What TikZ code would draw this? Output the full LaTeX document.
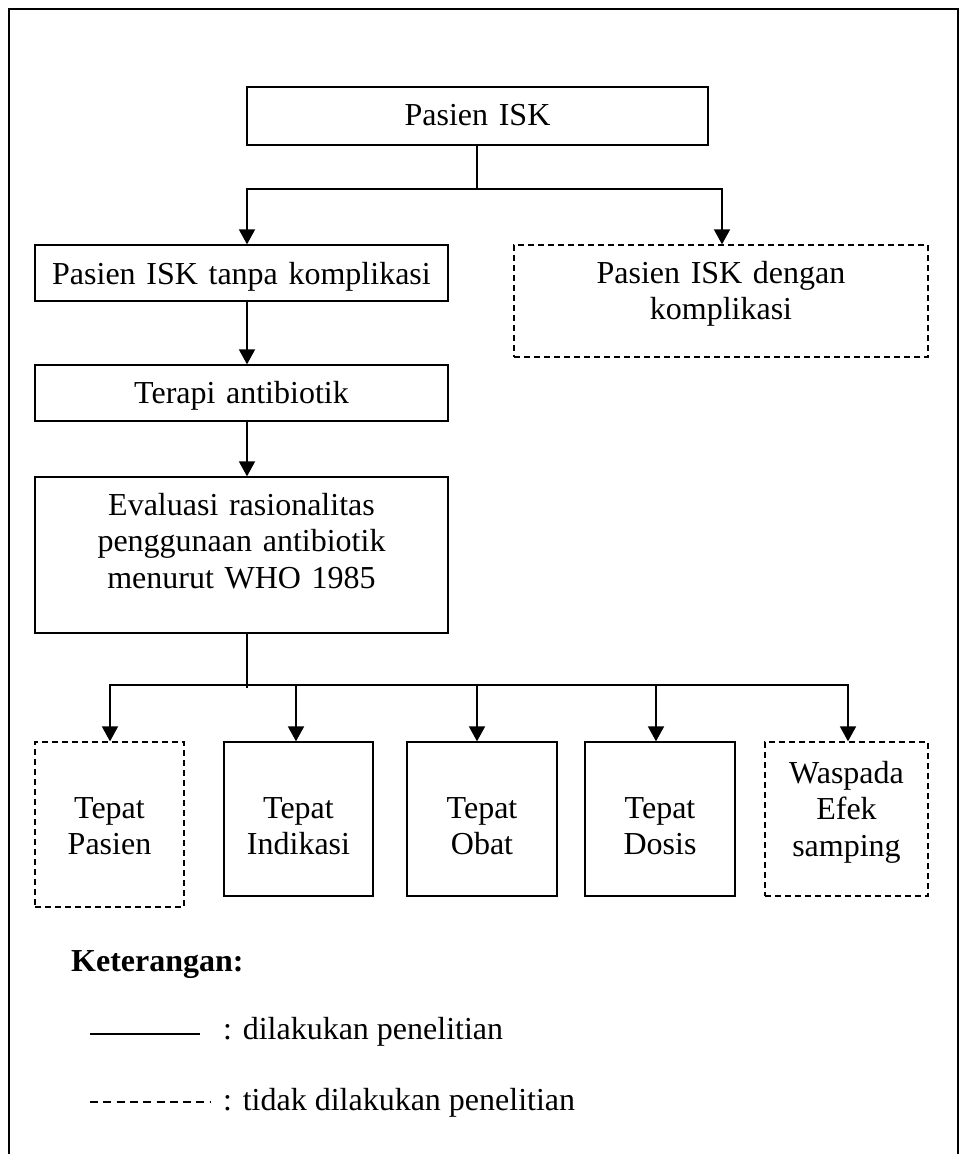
\documentclass[tikz,border=0pt]{standalone}
\usepackage{fontspec}
\setmainfont{Liberation Serif}
\usetikzlibrary{arrows.meta,calc}
\tikzset{
  solidbox/.style={draw, line width=1.3pt, inner sep=0pt},
  dashbox/.style={draw, line width=1.3pt, inner sep=0pt, dash pattern=on 6pt off 4pt},
  txt/.style={font=\fontsize{32}{36.5}\selectfont, align=center, inner sep=0pt, anchor=base},
  conn/.style={line width=1.8pt},
  arr/.style={line width=1.8pt, -{Triangle[width=16pt,length=15pt]}},
  frame/.style={line width=1.6pt},
}
\begin{document}
\begin{tikzpicture}[x=1pt,y=-1pt]
\useasboundingbox (0,0) rectangle (963,1154);
% outer frame (open at bottom)
\draw[frame] (9,1154) -- (9,9) -- (958,9) -- (958,1154);

% boxes
\node[solidbox, minimum width=461pt, minimum height=58pt] (isk) at (477.5,116) {};
\node[solidbox, minimum width=413pt, minimum height=56pt] (tanpa) at (241.5,273) {};
\node[dashbox, minimum width=414pt, minimum height=112pt] (dengan) at (721,301) {};
\node[solidbox, minimum width=413pt, minimum height=56pt] (terapi) at (241.5,393) {};
\node[solidbox, minimum width=413pt, minimum height=156pt] (eval) at (241.5,555) {};
\node[dashbox, minimum width=149pt, minimum height=165pt] (pasien) at (109.5,824.5) {};
\node[solidbox, minimum width=149pt, minimum height=154pt] (indikasi) at (298.5,819) {};
\node[solidbox, minimum width=150pt, minimum height=154pt] (obat) at (482,819) {};
\node[solidbox, minimum width=150pt, minimum height=154pt] (dosis) at (660,819) {};
\node[dashbox, minimum width=163pt, minimum height=154pt] (waspada) at (846.5,819) {};

% texts
\node[txt, text width=440pt] (iskT) at (477.5,125) {Pasien ISK};
\node[txt, text width=400pt] (tanpaT) at (241.5,284) {Pasien ISK tanpa komplikasi};
\node[txt, text width=400pt] (denganT) at (721,283) {Pasien ISK dengan\\komplikasi};
\node[txt, text width=400pt] (terapiT) at (241.5,403) {Terapi antibiotik};
\node[txt, text width=400pt] (evalT) at (241.5,515) {Evaluasi rasionalitas\\penggunaan antibiotik\\menurut WHO 1985};
\node[txt, text width=145pt] (pasienT) at (109.5,818) {Tepat\\Pasien};
\node[txt, text width=145pt] (indikasiT) at (298.5,818) {Tepat\\Indikasi};
\node[txt, text width=145pt] (obatT) at (482,818) {Tepat\\Obat};
\node[txt, text width=145pt] (dosisT) at (660,818) {Tepat\\Dosis};
\node[txt, text width=160pt] (waspadaT) at (846.5,783) {Waspada\\Efek\\samping};

% helper coordinates
\coordinate (sp) at (247,0);
\coordinate (rp) at (722,0);
\coordinate (xc) at (477,0);
\coordinate (j1) at (477,189);
\coordinate (j2) at (247,685);
\coordinate (xa) at (110,0);
\coordinate (xb) at (296,0);
\coordinate (xd) at (656,0);
\coordinate (xe) at (848,0);

% connectors top
\draw[conn] (isk.south -| xc) -- (j1);
\draw[arr] (j1) -| (tanpa.north -| sp);
\draw[arr] (j1) -| (dengan.north -| rp);
\draw[arr] (tanpa.south -| sp) -- (terapi.north -| sp);
\draw[arr] (terapi.south -| sp) -- (eval.north -| sp);

% connectors bottom
\draw[conn] (eval.south -| sp) -- ($(j2)+(0,3)$);
\draw[arr] (j2) -| (pasien.north -| xa);
\draw[arr] (j2) -| (waspada.north -| xe);
\draw[arr] (xb |- j2) -- (indikasi.north -| xb);
\draw[arr] (xc |- j2) -- (obat.north -| xc);
\draw[arr] (xd |- j2) -- (dosis.north -| xd);

% legend
\node[font=\fontsize{32}{36.5}\selectfont\bfseries, inner sep=0pt, anchor=base west] (ket) at (71,971) {Keterangan:};
\coordinate (l1a) at (90,1034);
\coordinate (l1b) at (200,1034);
\coordinate (l2a) at (90,1102);
\coordinate (l2b) at (210,1102);
\draw[line width=1.5pt] (l1a) -- (l1b);
\draw[line width=1.3pt, dash pattern=on 8pt off 5.3pt] (l2a) -- (l2b);
\node[font=\fontsize{32}{36.5}\selectfont, inner sep=0pt, anchor=base west] (l1t) at (223,1039) {: dilakukan penelitian};
\node[font=\fontsize{32}{36.5}\selectfont, inner sep=0pt, anchor=base west] (l2t) at (223,1110) {: tidak dilakukan penelitian};
\end{tikzpicture}
\end{document}
